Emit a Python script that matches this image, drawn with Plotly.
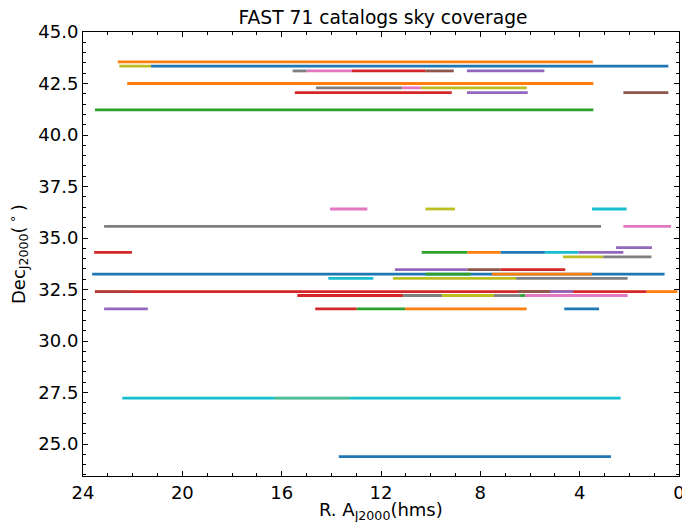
import plotly.graph_objects as go

# Catalog coverage segments: RA start (h), RA end (h), Dec (deg), colour name
ra_start = [22.60, 22.54, 21.26, 15.56, 14.99, 13.17, 10.20, 8.54,
            22.22, 14.62, 11.15, 10.39, 15.47, 8.54, 2.24, 23.52,
            14.05, 10.21, 3.50, 23.15, 2.24, 2.54, 23.55, 10.36, 8.52, 7.18, 5.40, 4.05,
            4.67, 3.05, 11.44, 8.52, 7.18, 23.63, 10.20, 7.53, 14.12, 11.52, 6.56,
            23.52, 23.52, 6.51, 5.19, 1.30, 15.37, 11.10, 9.54, 7.45, 6.40, 6.19,
            23.15, 14.65, 12.98, 11.03, 4.62,
            22.42, 16.29, 13.70]
ra_end = [3.47, 21.26, 0.43, 14.99, 13.17, 10.20, 9.07, 5.42,
          3.45, 11.15, 10.39, 6.13, 9.15, 6.09, 0.43, 3.45,
          12.55, 9.02, 2.11, 3.14, 0.32, 1.09, 22.03, 8.52, 7.18, 5.40, 4.05, 2.24,
          3.05, 1.11, 8.52, 7.18, 4.58, 0.58, 8.39, 3.50, 12.31, 6.56, 2.07,
          1.30, 22.04, 5.19, 4.26, 0.07, 11.10, 9.54, 7.45, 6.40, 6.19, 2.07,
          21.39, 12.98, 11.03, 6.13, 3.22,
          2.35, 13.26, 2.74]
dec = [43.55, 43.34, 43.34, 43.11, 43.11, 43.11, 43.11, 43.11,
       42.50, 42.29, 42.29, 42.29, 42.06, 42.06, 42.06, 41.22,
       36.41, 36.41, 36.41, 35.57, 35.57, 34.53, 34.30, 34.30, 34.30, 34.30, 34.30, 34.30,
       34.09, 34.09, 33.47, 33.47, 33.47, 33.25, 33.25, 33.25, 33.04, 33.04, 33.04,
       32.40, 32.40, 32.40, 32.40, 32.40, 32.21, 32.21, 32.21, 32.21, 32.21, 32.21,
       31.56, 31.56, 31.56, 31.56, 31.56,
       27.23, 27.23, 24.39]
seg_color = ["orange", "olive", "blue", "gray", "pink", "red", "brown", "purple",
             "orange", "gray", "pink", "olive", "red", "purple", "brown", "green",
             "pink", "olive", "cyan", "gray", "pink", "purple", "red", "green", "orange", "blue", "cyan", "purple",
             "olive", "gray", "purple", "brown", "red", "blue", "green", "orange", "cyan", "olive", "gray",
             "red", "brown_faint", "brown", "purple", "orange", "red", "gray", "olive", "gray", "green", "pink",
             "purple", "red", "green", "orange", "blue",
             "cyan", "olive_faint", "blue"]

palette = {
    "blue": "#1f77b4", "orange": "#ff7f0e", "green": "#2ca02c", "red": "#d62728",
    "purple": "#9467bd", "brown": "#8c564b", "pink": "#e377c2", "gray": "#7f7f7f",
    "olive": "#bcbd22", "cyan": "#17becf",
    "brown_faint": "rgba(140,86,75,0.45)", "olive_faint": "rgba(188,189,34,0.35)",
}

title_text = "FAST 71 catalogs sky coverage"
x_ticks = [24, 20, 16, 12, 8, 4, 0]
y_ticks = [25.0, 27.5, 30.0, 32.5, 35.0, 37.5, 40.0, 42.5, 45.0]

fig = go.Figure()
for r0, r1, d, c in zip(ra_start, ra_end, dec, seg_color):
    fig.add_trace(go.Scatter(x=[r0, r1], y=[d, d], mode="lines",
                             line=dict(color=palette[c], width=2.8),
                             showlegend=False, hoverinfo="skip"))

font_family = "DejaVu Sans"
axis_common = dict(
    showline=True, linecolor="black", linewidth=1.1, mirror="ticks",
    ticks="inside", ticklen=5, tickwidth=1.1, tickcolor="black",
    showgrid=False, zeroline=False, automargin=False,
    ticklabeloverflow="allow",
    tickfont=dict(family=font_family, size=18, color="black"),
)

fig.update_layout(
    width=682, height=522,
    margin=dict(l=83, r=3, t=32, b=46, autoexpand=False),
    plot_bgcolor="white", paper_bgcolor="white",
    font=dict(family=font_family, color="black"),
    title=dict(text=title_text, x=383 / 682, xanchor="center",
               y=1 - 17 / 522, yanchor="middle", yref="container", automargin=False,
               font=dict(family=font_family, size=18.7, color="black")),
    xaxis=dict(range=[24, 0], tickvals=x_ticks, ticktext=[str(v) for v in x_ticks],
               minor=dict(dtick=1, ticks="inside", ticklen=3, tickwidth=1, tickcolor="black"),
               **axis_common),
    yaxis=dict(range=[23.45, 45.0], tickvals=y_ticks, ticktext=[f"{v:.1f}" for v in y_ticks],
               minor=dict(dtick=0.5, tick0=0, ticks="inside", ticklen=3, tickwidth=1, tickcolor="black"),
               **axis_common),
    annotations=[
        dict(text="R. A<sub>J2000</sub>(hms)", xref="paper", yref="paper",
             x=0.5, y=-35 / 444, xanchor="center", yanchor="middle", showarrow=False,
             font=dict(family=font_family, size=18, color="black")),
        dict(text="Dec<sub>J2000</sub>(\u2009<sup>∘</sup>\u2009)", xref="paper", yref="paper",
             x=-65 / 596, y=0.5, xanchor="center", yanchor="middle", showarrow=False,
             textangle=-90, font=dict(family=font_family, size=18, color="black")),
    ],
)

fig.write_html("out.html", config={"displayModeBar": False},
               post_script="document.body.style.margin='0';document.body.style.overflow='hidden';")
